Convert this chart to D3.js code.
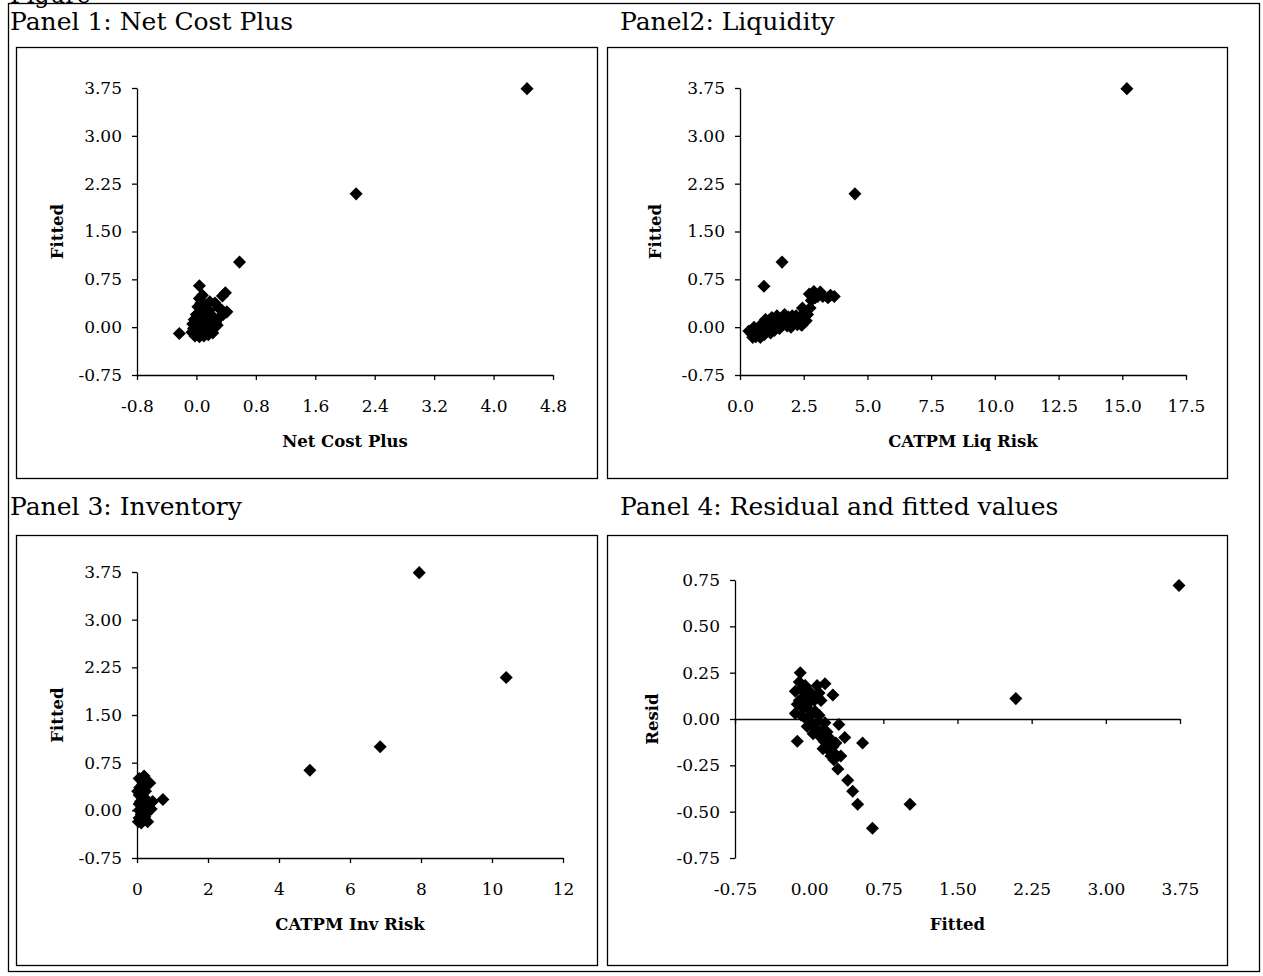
<!DOCTYPE html>
<html>
<head>
<meta charset="utf-8">
<script src="https://cdn.jsdelivr.net/npm/d3@7"></script>
<style>
  body { margin: 0; background: #fff; }
  text { font-family: "DejaVu Serif", serif; fill: #000; }
</style>
</head>
<body>
<svg id="chart" width="1263" height="976"></svg>
<script>
// --- data ---
// panel 1: x = Net Cost Plus, y = Fitted
const netCostPts = [
  [4.45, 3.74], [2.15, 2.09], [0.58, 1.02], [0.04, 0.65], [0.39, 0.54], [0.35, 0.49], [-0.23, -0.10],
  [-0.06, -0.08], [-0.02, -0.14], [0.04, -0.15], [0.10, -0.14], [0.16, -0.12], [0.22, -0.09],
  [-0.04, -0.02], [0.00, -0.06], [0.06, -0.08], [0.12, -0.05], [0.18, -0.03], [0.24, -0.01], [0.28, 0.03],
  [-0.05, 0.05], [0.02, 0.02], [0.08, 0.03], [0.14, 0.06], [0.20, 0.05], [0.26, 0.08],
  [-0.03, 0.12], [0.03, 0.10], [0.09, 0.12], [0.15, 0.15], [0.21, 0.18], [0.30, 0.14], [0.36, 0.20], [0.41, 0.24],
  [0.00, 0.20], [0.05, 0.24], [0.11, 0.22], [0.17, 0.26], [0.30, 0.30], [0.34, 0.27],
  [0.02, 0.32], [0.06, 0.38], [0.12, 0.34], [0.18, 0.40], [0.25, 0.38], [0.04, 0.45], [0.08, 0.50]
];
// panel 2: x = CATPM Liq Risk, y = Fitted
const liqPts = [
  [15.18, 3.74], [4.51, 2.09], [1.65, 1.02], [0.94, 0.64],
  [0.45, -0.10], [0.62, -0.15], [0.80, -0.16], [0.70, -0.04], [0.95, -0.12], [1.05, -0.02], [1.20, -0.09],
  [1.35, -0.05], [1.30, 0.06], [1.50, 0.00], [1.60, 0.12], [1.70, 0.04], [1.85, 0.02], [1.95, 0.10],
  [2.05, 0.18], [2.15, 0.06], [2.30, 0.14], [2.40, 0.04], [2.50, 0.22], [2.60, 0.10], [2.75, 0.30],
  [2.72, 0.52], [2.90, 0.56], [3.05, 0.48], [3.25, 0.48], [3.45, 0.46], [3.70, 0.48], [2.95, 0.46],
  [0.88, 0.06], [1.12, 0.10], [1.45, 0.18], [0.55, 0.00], [2.00, 0.00], [2.25, 0.04], [1.75, 0.20],
  [2.45, 0.30], [1.00, 0.12], [2.43, 0.03], [0.35, -0.06], [0.50, -0.16], [0.75, -0.08], [1.10, -0.05],
  [1.55, -0.02], [1.90, 0.16], [2.20, 0.18], [2.65, 0.20], [2.80, 0.42], [3.15, 0.55], [3.55, 0.50], [1.25, 0.15]
];
// panel 3: x = CATPM Inv Risk, y = Fitted
const invPts = [
  [7.95, 3.74], [10.40, 2.09], [6.85, 1.00], [4.87, 0.63],
  [0.06, 0.50], [0.20, 0.54], [0.36, 0.43], [0.08, 0.36], [0.16, 0.40], [0.24, 0.30], [0.06, 0.24],
  [0.14, 0.20], [0.30, 0.15], [0.44, 0.14], [0.73, 0.17], [0.06, 0.10], [0.18, 0.06], [0.06, 0.00],
  [0.24, 0.02], [0.40, 0.02], [0.12, -0.06], [0.06, -0.12], [0.22, -0.10], [0.30, -0.18], [0.12, -0.20],
  [0.04, -0.18], [0.18, -0.15], [0.10, 0.14], [0.02, 0.30], [0.28, -0.04]
];
// panel 4: x = Fitted, y = Resid
const residPts = [
  [3.74, 0.72], [2.09, 0.11], [1.02, -0.46], [0.64, -0.59],
  [-0.09, 0.25], [0.24, 0.13], [0.16, 0.19], [-0.12, -0.12], [0.30, -0.03], [0.54, -0.13], [0.36, -0.10],
  [0.26, -0.19], [0.29, -0.27], [0.39, -0.33], [0.44, -0.39], [0.49, -0.46], [-0.14, 0.15], [-0.14, 0.03],
  [-0.10, 0.20], [-0.08, 0.16], [-0.05, 0.12], [-0.10, 0.10], [-0.06, 0.06], [-0.02, 0.08], [0.00, 0.05],
  [0.02, 0.02], [-0.03, 0.00], [0.03, -0.03], [0.06, -0.05], [0.08, -0.02], [0.10, -0.08], [0.12, -0.10],
  [0.15, -0.12], [0.18, -0.14], [0.20, -0.17], [0.22, -0.20], [0.14, -0.06], [0.05, 0.10], [0.08, 0.12],
  [0.00, 0.15], [-0.04, 0.18], [0.10, 0.14], [0.12, 0.10], [0.04, -0.08], [0.25, -0.22], [0.18, -0.07],
  [0.27, -0.13], [0.32, -0.20], [0.08, 0.18], [-0.12, 0.08], [-0.08, 0.02], [0.02, 0.12], [0.06, 0.04],
  [0.10, 0.02], [0.16, -0.02], [0.20, -0.10], [0.24, -0.15], [0.28, -0.20], [-0.02, -0.04], [0.14, -0.16]
];

const fittedTicks = [-0.75, 0, 0.75, 1.5, 2.25, 3, 3.75];
const netCostTicks = [-0.8, 0, 0.8, 1.6, 2.4, 3.2, 4.0, 4.8];
const liqTicks = [0, 2.5, 5, 7.5, 10, 12.5, 15, 17.5];
const invTicks = [0, 2, 4, 6, 8, 10, 12];
const residTicks = [-0.75, -0.5, -0.25, 0, 0.25, 0.5, 0.75];

const titles = ["Panel 1: Net Cost Plus", "Panel2: Liquidity", "Panel 3: Inventory", "Panel 4: Residual and fitted values"];

// plain hyphen for negatives, like the original
var loc = d3.formatLocale({ decimal: ".", thousands: ",", grouping: [3], currency: ["", ""], minus: "-" });

var svg = d3.select("#chart");

// outer frame + cut-off figure caption
svg.append("rect").attr("x", 8.5).attr("y", 3.5).attr("width", 1251).attr("height", 968)
  .attr("fill", "none").attr("stroke", "#000").attr("stroke-width", 1.3);
svg.append("text").attr("x", 10).attr("y", 3).style("font-size", "24px").text("Figure");

var panels = [
  { title: titles[0], tx: 10, ty: 30, box: [16, 47, 581, 431], px: [137, 553], py: [375, 88],
    pts: netCostPts, xd: [-0.8, 4.8], xt: netCostTicks, xf: loc.format(".1f"),
    yd: [-0.75, 3.75], yt: fittedTicks, xl: "Net Cost Plus", yl: "Fitted", ylx: 57 },
  { title: titles[1], tx: 620, ty: 30, box: [607, 47, 620, 431], px: [740, 1186], py: [375, 88],
    pts: liqPts, xd: [0, 17.5], xt: liqTicks, xf: loc.format(".1f"),
    yd: [-0.75, 3.75], yt: fittedTicks, xl: "CATPM Liq Risk", yl: "Fitted", ylx: 655 },
  { title: titles[2], tx: 10, ty: 515, box: [16, 535, 581, 430], px: [137, 563], py: [858, 572],
    pts: invPts, xd: [0, 12], xt: invTicks, xf: loc.format("d"),
    yd: [-0.75, 3.75], yt: fittedTicks, xl: "CATPM Inv Risk", yl: "Fitted", ylx: 57 },
  { title: titles[3], tx: 620, ty: 515, box: [607, 535, 620, 430], px: [735, 1180], py: [858, 580],
    pts: residPts, xd: [-0.75, 3.75], xt: fittedTicks, xf: loc.format(".2f"),
    yd: [-0.75, 0.75], yt: residTicks, xl: "Fitted", yl: "Resid", ylx: 652, zeroAxis: true }
];

var diamond = d3.symbol().type(d3.symbolSquare).size(85);

panels.forEach(function(p) {
  var g = svg.append("g");

  g.append("text").attr("x", p.tx).attr("y", p.ty).style("font-size", "25px").text(p.title);

  g.append("rect").attr("x", p.box[0] + 0.5).attr("y", p.box[1] + 0.5)
    .attr("width", p.box[2]).attr("height", p.box[3])
    .attr("fill", "none").attr("stroke", "#000").attr("stroke-width", 1.3);

  var x = d3.scaleLinear().domain(p.xd).range(p.px);
  var y = d3.scaleLinear().domain(p.yd).range(p.py);

  // y axis
  g.append("g").attr("transform", "translate(" + p.px[0] + ",0)")
    .call(d3.axisLeft(y).tickValues(p.yt).tickFormat(loc.format(".2f")).tickSize(5).tickSizeOuter(0).tickPadding(10));

  // x axis line (at y=0 for the residual panel)
  var yPos = p.zeroAxis ? y(0) : p.py[0];
  var xa = g.append("g").attr("transform", "translate(0," + yPos + ")")
    .call(d3.axisBottom(x).tickValues(p.xt).tickFormat(p.xf).tickSize(5).tickSizeOuter(0).tickPadding(20));

  // residual panel: labels sit at the bottom, not on the zero line
  if (p.zeroAxis) {
    xa.selectAll("text").remove();
    g.append("g").attr("transform", "translate(0," + p.py[0] + ")")
      .call(d3.axisBottom(x).tickValues(p.xt).tickFormat(p.xf).tickSize(0).tickPadding(25))
      .call(a => a.select(".domain").remove());
  }

  g.selectAll(".domain, .tick line").attr("stroke", "#000").attr("stroke-width", 1.3);
  g.selectAll(".tick text").style("font-size", "17px").style("font-family", "DejaVu Serif");

  // axis titles
  g.append("text").attr("x", (p.px[0] + p.px[1]) / 2).attr("y", p.py[0] + 72)
    .attr("text-anchor", "middle").style("font-size", "16.5px").style("font-weight", "bold")
    .text(p.xl);
  g.append("text").attr("transform", "translate(" + p.ylx + "," + ((p.py[0] + p.py[1]) / 2) + ") rotate(-90)")
    .attr("text-anchor", "middle").attr("dy", "0.35em")
    .style("font-size", "16.5px").style("font-weight", "bold").text(p.yl);

  // points
  g.append("g").selectAll("path")
    .data(p.pts)
    .enter().append("path")
    .attr("d", diamond)
    .attr("transform", d => "translate(" + x(d[0]) + "," + y(d[1]) + ") rotate(45)")
    .attr("fill", "#000");
});
</script>
</body>
</html>
